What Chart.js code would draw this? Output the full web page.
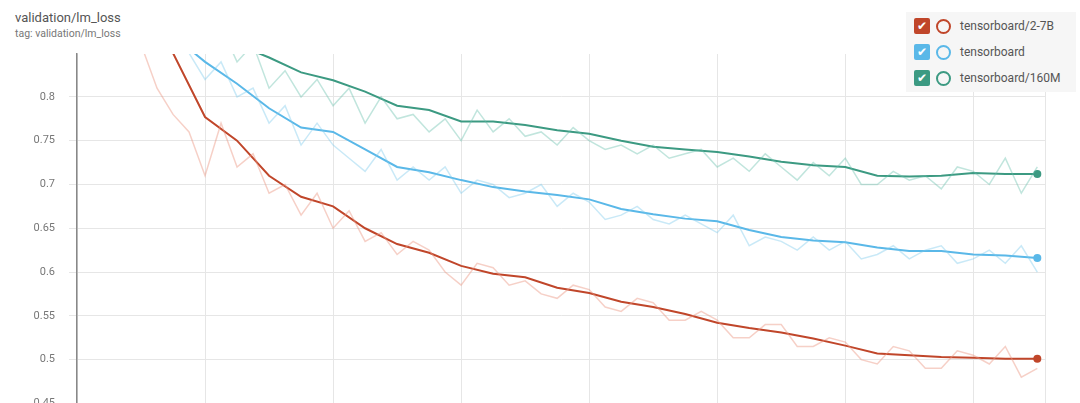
<!DOCTYPE html>
<html><head><meta charset="utf-8">
<script src="https://cdn.jsdelivr.net/npm/chart.js@4"></script>
<style>
body{margin:0;width:1080px;height:403px;overflow:hidden;background:#fff;font-family:Roboto,"Noto Sans",sans-serif;position:relative}
#t1{position:absolute;left:15px;top:10px;font-size:13px;color:#555}
#t2{position:absolute;left:15px;top:27px;font-size:10.5px;color:#777}
#leg{position:absolute;left:906px;top:12px;width:170px;height:80px;background:#f6f6f6;font-size:12px;color:#555}
.r{display:flex;align-items:center;height:24px;padding-left:8px;margin-top:2px}
.cb{width:16px;height:16px;border-radius:2px;color:#fff;font-size:12px;line-height:16px;text-align:center;margin-right:6px}
.ci{border-radius:50%;border:2px solid;margin-right:9px;box-sizing:border-box;width:15px;height:15px}
#c{position:absolute;left:0;top:0}
</style></head><body>
<div id="t1">validation/lm_loss</div><div id="t2">tag: validation/lm_loss</div>
<canvas id="c" width="1080" height="424" style="width:1080px;height:424px"></canvas>
<div id="leg">
<div class="r"><div class="cb" style="background:#c0462a">✔</div><div class="ci" style="border-color:#c0462a"></div>tensorboard/2-7B</div>
<div class="r"><div class="cb" style="background:#5ab8e8">✔</div><div class="ci" style="border-color:#5ab8e8"></div>tensorboard</div>
<div class="r"><div class="cb" style="background:#3c9a82">✔</div><div class="ci" style="border-color:#3c9a82"></div>tensorboard/160M</div>
</div>
<script>
const smoothSteps=[0.5,0.75,1,1.25,1.5,1.75,2,2.25,2.5,2.75,3,3.25,3.5,3.75,4,4.25,4.5,4.75,5,5.25,5.5,5.75,6,6.25,6.5,6.75,7,7.25,7.5];
const redSmooth=[0.93,0.85,0.777,0.75,0.71,0.686,0.675,0.65,0.632,0.622,0.607,0.598,0.594,0.582,0.576,0.566,0.56,0.552,0.542,0.536,0.531,0.524,0.516,0.507,0.505,0.503,0.502,0.501,0.501];
const blueSmooth=[0.92,0.87,0.84,0.815,0.787,0.765,0.76,0.74,0.72,0.714,0.705,0.697,0.692,0.688,0.683,0.672,0.666,0.661,0.658,0.648,0.64,0.636,0.634,0.628,0.624,0.624,0.62,0.619,0.616];
const greenSmooth=[0.96,0.93,0.89,0.86,0.845,0.828,0.819,0.806,0.79,0.785,0.772,0.772,0.768,0.762,0.758,0.75,0.743,0.74,0.737,0.732,0.726,0.722,0.72,0.71,0.709,0.71,0.713,0.712,0.712];
const rawSteps=[0.5,0.625,0.75,0.875,1,1.125,1.25,1.375,1.5,1.625,1.75,1.875,2,2.125,2.25,2.375,2.5,2.625,2.75,2.875,3,3.125,3.25,3.375,3.5,3.625,3.75,3.875,4,4.125,4.25,4.375,4.5,4.625,4.75,4.875,5,5.125,5.25,5.375,5.5,5.625,5.75,5.875,6,6.125,6.25,6.375,6.5,6.625,6.75,6.875,7,7.125,7.25,7.375,7.5];
const redRaw=[0.86,0.81,0.78,0.76,0.71,0.77,0.72,0.735,0.69,0.70,0.665,0.69,0.65,0.67,0.635,0.645,0.62,0.635,0.625,0.60,0.585,0.61,0.605,0.585,0.59,0.575,0.57,0.585,0.58,0.56,0.555,0.57,0.565,0.545,0.545,0.555,0.545,0.525,0.525,0.54,0.54,0.515,0.515,0.525,0.52,0.50,0.495,0.515,0.51,0.49,0.49,0.51,0.505,0.495,0.515,0.48,0.49];
const blueRaw=[0.95,0.90,0.88,0.85,0.82,0.84,0.80,0.81,0.77,0.79,0.745,0.77,0.745,0.73,0.715,0.74,0.705,0.72,0.705,0.72,0.69,0.705,0.70,0.685,0.69,0.70,0.675,0.69,0.68,0.66,0.665,0.675,0.66,0.655,0.665,0.655,0.645,0.665,0.63,0.64,0.635,0.625,0.64,0.625,0.635,0.615,0.62,0.63,0.615,0.625,0.63,0.61,0.615,0.625,0.61,0.63,0.60];
const greenRaw=[0.97,0.95,0.93,0.90,0.87,0.88,0.84,0.86,0.81,0.83,0.80,0.82,0.79,0.81,0.77,0.80,0.775,0.78,0.76,0.775,0.75,0.785,0.76,0.775,0.755,0.76,0.745,0.765,0.75,0.74,0.745,0.735,0.745,0.73,0.735,0.74,0.72,0.73,0.715,0.735,0.72,0.705,0.725,0.71,0.73,0.70,0.70,0.715,0.705,0.71,0.695,0.72,0.715,0.70,0.73,0.69,0.72];
const yTicks=[0.45,0.5,0.55,0.6,0.65,0.7,0.75,0.8];
const pts=(xs,ys)=>xs.map((x,i)=>({x,y:ys[i]}));
function ds(xs,ys,col,w,dot){return{data:pts(xs,ys),borderColor:col,borderWidth:w,tension:0,
 pointRadius:c=>dot&&c.dataIndex===xs.length-1?4:0,pointBackgroundColor:col,pointBorderWidth:0};}
new Chart(document.getElementById('c'),{type:'line',
data:{datasets:[
 ds(rawSteps,redRaw,'rgba(236,150,130,0.45)',1.5,false),
 ds(rawSteps,blueRaw,'rgba(120,200,235,0.4)',1.5,false),
 ds(rawSteps,greenRaw,'rgba(100,190,170,0.4)',1.5,false),
 ds(smoothSteps,redSmooth,'#c0462a',2,true),
 ds(smoothSteps,blueSmooth,'#5ab8e8',2,true),
 ds(smoothSteps,greenSmooth,'#3c9a82',2,true)]},
options:{responsive:false,animation:false,clip:{left:0,top:0,right:10,bottom:0},
 layout:{padding:{top:54,right:35,bottom:7,left:0}},
 plugins:{legend:{display:false},tooltip:{enabled:false}},
 scales:{
  x:{type:'linear',min:0,max:7.56,ticks:{display:false,stepSize:1},grid:{color:'#e6e6e6',drawTicks:false},border:{display:false}},
  y:{min:0.45,max:0.849,afterFit:s=>{s.width=77;},afterBuildTicks:s=>{s.ticks=yTicks.map(v=>({value:v}));},
   ticks:{color:'#777',font:{size:11,family:'Roboto'},padding:14,callback:v=>String(v)},
   grid:{color:'#e6e6e6',drawTicks:true,tickLength:8},border:{color:'#888',width:1.5}}
 }}});
</script></body></html>
